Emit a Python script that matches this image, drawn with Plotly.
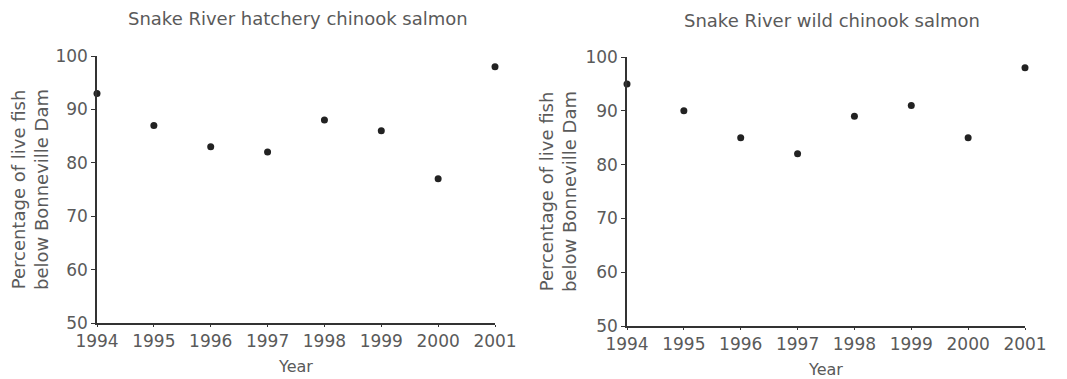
import plotly.graph_objects as go

years = [1994, 1995, 1996, 1997, 1998, 1999, 2000, 2001]
hatchery_pct = [93, 87, 83, 82, 88, 86, 77, 98]
wild_pct = [95, 90, 85, 82, 89, 91, 85, 98]
titles = ["Snake River hatchery chinook salmon", "Snake River wild chinook salmon"]
y_title = "Percentage of live fish<br>below Bonneville Dam"
x_title = "Year"

FONT = "DejaVu Sans, Verdana, sans-serif"
GRAY = "#5a5a5a"
W, H, OFF = 1067, 379, 8  # page body margin offset


def px_x(v):
    return (v - OFF) / W


def px_y(v):
    return 1 - (v - OFF) / H


fig = go.Figure()
fig.add_trace(go.Scatter(x=years, y=hatchery_pct, mode="markers", xaxis="x", yaxis="y",
                         marker=dict(color="#222222", size=7), cliponaxis=False, showlegend=False))
fig.add_trace(go.Scatter(x=years, y=wild_pct, mode="markers", xaxis="x2", yaxis="y2",
                         marker=dict(color="#222222", size=7), cliponaxis=False, showlegend=False))

xcommon = dict(range=[1994, 2001], tickvals=years, ticktext=[str(y) for y in years],
               showline=True, linecolor="#333333", linewidth=1.5, ticks="outside", ticklen=2,
               tickcolor="#333333", showgrid=False, zeroline=False, automargin=False,
               tickfont=dict(family=FONT, size=17, color=GRAY),
               title=dict(text=x_title, font=dict(family=FONT, size=16, color=GRAY), standoff=11))
ycommon = dict(range=[50, 100], tickvals=[50, 60, 70, 80, 90, 100],
               showline=True, linecolor="#333333", linewidth=1.5, ticks="outside", ticklen=4,
               tickcolor="#333333", showgrid=False, zeroline=False, automargin=False,
               tickfont=dict(family=FONT, size=17, color=GRAY),
               title=dict(text=y_title, font=dict(family=FONT, size=18, color=GRAY), standoff=4))

fig.update_layout(
    width=W, height=H,
    margin=dict(l=0, r=0, t=0, b=0),
    paper_bgcolor="white", plot_bgcolor="white",
    xaxis=dict(domain=[px_x(97), px_x(495)], anchor="y", **xcommon),
    yaxis=dict(domain=[px_y(323), px_y(56)], anchor="x", **ycommon),
    xaxis2=dict(domain=[px_x(627), px_x(1025)], anchor="y2", **xcommon),
    yaxis2=dict(domain=[px_y(326), px_y(57)], anchor="x2", **ycommon),
    annotations=[
        dict(text=titles[0], x=px_x(298), y=px_y(19), xref="paper", yref="paper",
             xanchor="center", yanchor="middle",
             showarrow=False, font=dict(family=FONT, size=18, color=GRAY)),
        dict(text=titles[1], x=px_x(832), y=px_y(20), xref="paper", yref="paper",
             xanchor="center", yanchor="middle",
             showarrow=False, font=dict(family=FONT, size=18, color=GRAY)),
    ],
)

fig.write_html("out.html")
